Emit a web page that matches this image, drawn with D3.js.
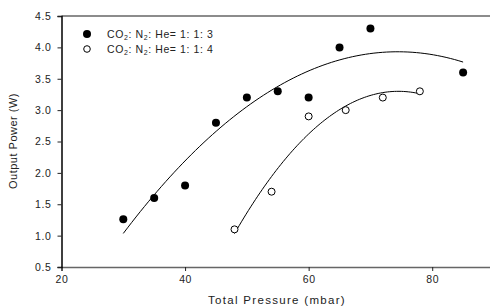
<!DOCTYPE html>
<html>
<head>
<meta charset="utf-8">
<script src="https://cdnjs.cloudflare.com/ajax/libs/d3/7.8.5/d3.min.js"></script>
<style>
  body { margin: 0; background: #fff; }
  text { font-family: "Liberation Sans", Arial, sans-serif; fill: #222; }
</style>
</head>
<body>
<svg id="chart" width="490" height="306"></svg>
<script>
// 測定データ
var pressA = [30, 35, 40, 45, 50, 55, 60, 65, 70, 85];
var powerA = [1.26, 1.6, 1.8, 2.8, 3.2, 3.3, 3.2, 4.0, 4.3, 3.6];
var pressB = [48, 54, 60, 66, 72, 78];
var powerB = [1.1, 1.7, 2.9, 3.0, 3.2, 3.3];
var labelA = "1: 1: 3";
var labelB = "1: 1: 4";
var xTicks = [20, 40, 60, 80];
var yTicks = [0.5, 1.0, 1.5, 2.0, 2.5, 3.0, 3.5, 4.0, 4.5];

var svg = d3.select("#chart");
var x = d3.scaleLinear().domain([20, 90]).range([61.5, 494]);
var y = d3.scaleLinear().domain([0.5, 4.5]).range([267, 16]);

// 二次回帰 (最小二乗)
function quadFit(xs, ys) {
    var S = [0, 0, 0, 0, 0], T = [0, 0, 0];
    xs.forEach(function (xv, i) {
        for (var k = 0; k < 5; k++) S[k] += Math.pow(xv, k);
        for (var k = 0; k < 3; k++) T[k] += Math.pow(xv, k) * ys[i];
    });
    var M = [[S[0], S[1], S[2], T[0]], [S[1], S[2], S[3], T[1]], [S[2], S[3], S[4], T[2]]];
    for (var c = 0; c < 3; c++) {
        for (var r = c + 1; r < 3; r++) {
            var f = M[r][c] / M[c][c];
            for (var k = c; k < 4; k++) M[r][k] -= f * M[c][k];
        }
    }
    var b = [0, 0, 0];
    for (var r = 2; r >= 0; r--) {
        var s = M[r][3];
        for (var k = r + 1; k < 3; k++) s -= M[r][k] * b[k];
        b[r] = s / M[r][r];
    }
    return function (xv) { return b[0] + b[1] * xv + b[2] * xv * xv; };
}

function fitLine(xs, ys) {
    var f = quadFit(xs, ys);
    var lo = d3.min(xs), hi = d3.max(xs);
    return d3.range(lo, hi + 0.01, (hi - lo) / 80).map(function (v) { return [v, f(v)]; });
}

var line = d3.line().x(function (d) { return x(d[0]); }).y(function (d) { return y(d[1]); });

// 枠線
svg.append("line").attr("x1", 61.5).attr("x2", 490).attr("y1", 16).attr("y2", 16)
    .attr("stroke", "#666").attr("stroke-width", 1.5);

// 軸
var gx = svg.append("g").attr("transform", "translate(0,267)")
    .call(d3.axisBottom(x).tickValues(xTicks).tickSize(4).tickPadding(5).tickFormat(d3.format("d")));
var gy = svg.append("g").attr("transform", "translate(61.5,0)")
    .call(d3.axisLeft(y).tickValues(yTicks).tickSize(4).tickPadding(6).tickFormat(d3.format(".1f")));
gx.select(".domain").attr("stroke", "#666").attr("stroke-width", 1.5);
gy.select(".domain").attr("stroke", "#000").attr("stroke-width", 1.5);
svg.selectAll(".tick text").attr("font-size", 10.5).attr("fill", "#222")
    .attr("letter-spacing", 0.6)
    .style("font-family", "'Liberation Sans', Arial, sans-serif");
svg.selectAll(".tick line").attr("stroke", "#222");

// 近似曲線
svg.append("path").datum(fitLine(pressA, powerA)).attr("d", line)
    .attr("fill", "none").attr("stroke", "#000").attr("stroke-width", 1);
svg.append("path").datum(fitLine(pressB, powerB)).attr("d", line)
    .attr("fill", "none").attr("stroke", "#000").attr("stroke-width", 1);

// データ点
svg.selectAll("circle.a").data(pressA).enter().append("circle").attr("class", "a")
    .attr("cx", function (d) { return x(d); })
    .attr("cy", function (d, i) { return y(powerA[i]); })
    .attr("r", 4).attr("fill", "#000");
svg.selectAll("circle.b").data(pressB).enter().append("circle").attr("class", "b")
    .attr("cx", function (d) { return x(d); })
    .attr("cy", function (d, i) { return y(powerB[i]); })
    .attr("r", 3.5).attr("fill", "#fff").attr("stroke", "#000").attr("stroke-width", 1);

// 凡例
var leg = svg.append("g");
[labelA, labelB].forEach(function (lab, i) {
    var yy = 34 + i * 15;
    if (i == 0) leg.append("circle").attr("cx", 87).attr("cy", yy).attr("r", 4).attr("fill", "#000");
    else leg.append("circle").attr("cx", 87).attr("cy", yy).attr("r", 3.3).attr("fill", "#fff").attr("stroke", "#000");
    var t = leg.append("text").attr("x", 107).attr("y", yy + 3.5).attr("font-size", 10.5)
        .attr("letter-spacing", 0.6);
    t.append("tspan").text("CO");
    t.append("tspan").text("2").attr("font-size", 7).attr("dy", 2.5);
    t.append("tspan").text(": N").attr("dy", -2.5);
    t.append("tspan").text("2").attr("font-size", 7).attr("dy", 2.5);
    t.append("tspan").text(": He= " + lab).attr("dy", -2.5);
});

// 軸ラベル
svg.append("text").attr("x", 277).attr("y", 304).attr("text-anchor", "middle")
    .attr("font-size", 11.5).attr("letter-spacing", 1.3).text("Total Pressure (mbar)");
svg.append("text").attr("transform", "translate(17,141) rotate(-90)").attr("text-anchor", "middle")
    .attr("font-size", 11).attr("letter-spacing", 0.5).text("Output Power (W)");
</script>
</body>
</html>
